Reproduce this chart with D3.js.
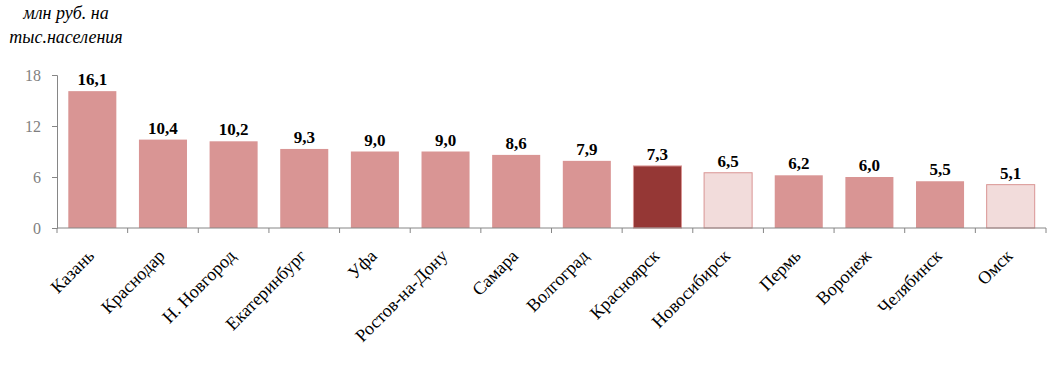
<!DOCTYPE html>
<html>
<head>
<meta charset="utf-8">
<script src="https://cdn.jsdelivr.net/npm/d3@7"></script>
<style>
  body { margin: 0; background: #fff; }
</style>
</head>
<body>
<svg id="chart"></svg>
<script>
var cities = ["Казань", "Краснодар", "Н. Новгород", "Екатеринбург", "Уфа", "Ростов-на-Дону",
              "Самара", "Волгоград", "Красноярск", "Новосибирск", "Пермь", "Воронеж", "Челябинск", "Омск"];
var values = [16.1, 10.4, 10.2, 9.3, 9.0, 9.0, 8.6, 7.9, 7.3, 6.5, 6.2, 6.0, 5.5, 5.1];
// 0 = обычный, 1 = выделенный, 2 = светлый
var kinds = [0, 0, 0, 0, 0, 0, 0, 0, 1, 2, 0, 0, 0, 2];
var yTicks = [0, 6, 12, 18];

var width = 1062, height = 371;
var margin = {left: 57, right: 16, top: 75, bottom: 143};
var FONT = "'Liberation Serif', 'Times New Roman', 'DejaVu Serif', serif";

var svg = d3.select('#chart').attr("width", width).attr("height", height);

var x = d3.scaleBand().domain(cities).range([margin.left, width - margin.right]).paddingInner(0.32).paddingOuter(0.16);
var y = d3.scaleLinear().domain([0, 18]).range([height - margin.bottom, margin.top]);

var fills = ["#d99594", "#953735", "#f2dcdb"];
var strokes = ["none", "#d99594", "#d99594"];

// BARS
svg.selectAll(".bar")
    .data(values)
    .enter()
    .append("rect")
    .attr("class", "bar")
    .attr("x", function(d, i) { return x(cities[i]); })
    .attr("y", function(d) { return y(d); })
    .attr("width", x.bandwidth())
    .attr("height", function(d) { return y(0) - y(d); })
    .attr("fill", function(d, i) { return fills[kinds[i]]; })
    .attr("stroke", function(d, i) { return strokes[kinds[i]]; })
    .attr("stroke-width", 1);

// VALUE LABELS
svg.selectAll(".bar_value")
    .data(values)
    .enter()
    .append("text")
    .attr("class", "bar_value")
    .attr("text-anchor", "middle")
    .attr("x", function(d, i) { return x(cities[i]) + x.bandwidth() / 2; })
    .attr("y", function(d) { return y(d) - 6; })
    .attr("font-family", FONT)
    .attr("font-size", "17px")
    .attr("font-weight", "bold")
    .attr("fill", "#000")
    .text(function(d) { return d.toFixed(1).replace(".", ","); });

// Y AXIS
var yAxis = svg.append("g")
    .attr("transform", "translate(" + margin.left + ",0)")
    .call(d3.axisLeft(y).tickValues(yTicks).tickSize(5).tickPadding(11));
yAxis.attr("font-family", FONT);
yAxis.select(".domain").attr("stroke", "#868686");
yAxis.selectAll(".tick line").attr("stroke", "#868686");
yAxis.selectAll(".tick text").attr("fill", "#7f7f7f").attr("font-size", "16px");

// X AXIS - ticks between categories
var edges = cities.map(function(c) { return x(c) - x.step() * x.paddingInner() / 2; });
edges.push(width - margin.right);
var xg = svg.append("g");
xg.append("line")
    .attr("x1", margin.left).attr("x2", width - margin.right)
    .attr("y1", y(0)).attr("y2", y(0))
    .attr("stroke", "#868686");
xg.selectAll(".xt")
    .data(edges)
    .enter()
    .append("line")
    .attr("x1", function(d) { return d; }).attr("x2", function(d) { return d; })
    .attr("y1", y(0)).attr("y2", y(0) + 5)
    .attr("stroke", "#868686");

// CATEGORY LABELS
svg.selectAll(".cat")
    .data(cities)
    .enter()
    .append("text")
    .attr("class", "cat")
    .attr("text-anchor", "end")
    .attr("font-family", FONT)
    .attr("font-size", "18px")
    .attr("fill", "#000")
    .attr("transform", function(d) {
        var cx = x(d) + x.bandwidth() / 2 + 3;
        return "translate(" + cx + "," + (y(0) + 29) + ") rotate(-45)";
    })
    .text(function(d) { return d; });

// UNITS
var unit = svg.append("text")
    .attr("font-family", FONT)
    .attr("font-size", "18px")
    .attr("font-style", "italic")
    .attr("text-anchor", "middle")
    .attr("fill", "#000");
unit.append("tspan").attr("x", 66).attr("y", 19).text("млн руб. на");
unit.append("tspan").attr("x", 66).attr("y", 43).text("тыс.населения");
</script>
</body>
</html>
